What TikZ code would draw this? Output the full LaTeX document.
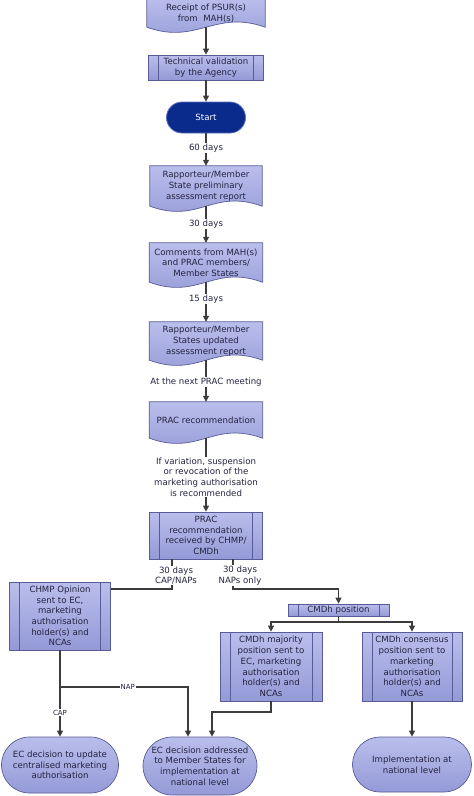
\documentclass[tikz,border=0pt]{standalone}
\usepackage{fontspec}
\setmainfont{DejaVu Sans}
\usetikzlibrary{arrows.meta,backgrounds,calc,shapes.misc}
\definecolor{boxtop}{RGB}{186,190,236}
\definecolor{boxbot}{RGB}{148,154,214}
\definecolor{boxline}{RGB}{88,92,150}
\definecolor{connc}{RGB}{60,60,60}
\definecolor{txt}{RGB}{35,35,65}
\definecolor{startfill}{RGB}{10,42,140}
\definecolor{startline}{RGB}{90,110,190}
\tikzset{
  base/.style={font=\fontsize{8.6}{10.7}\selectfont, text=txt, align=center, inner sep=0pt},
  docbox/.style={base},
  boxshade/.style={top color=boxtop, bottom color=boxbot, draw=boxline, line width=0.7pt},
  procbox/.style={base, boxshade,
    path picture={\draw[boxline,line width=0.7pt]
      ([xshift=10pt]path picture bounding box.north west) -- ([xshift=10pt]path picture bounding box.south west)
      ([xshift=-10pt]path picture bounding box.north east) -- ([xshift=-10pt]path picture bounding box.south east);}},
  termbox/.style={base, rounded rectangle, boxshade},
  startbox/.style={base, rounded rectangle, draw=startline, fill=startfill, line width=0.8pt, text=white},
  conn/.style={draw=connc, line width=1.1pt},
  arr/.style={conn, -{Triangle[length=6pt,width=6pt]}},
  lbl/.style={base, fill=white, inner sep=0.6pt},
  smalllbl/.style={lbl, font=\fontsize{7}{8}\selectfont},
}
\newcommand\wavebg[1]{%
  \begin{scope}[on background layer]
  \path[boxshade]
    (#1.north west) -- (#1.north east) -- (#1.south east)
    .. controls ($(#1.south east)+(-50,18)$) and ($(#1.south west)+(50,-18)$) .. (#1.south west) -- cycle;
  \end{scope}}
\begin{document}
\begin{tikzpicture}[x=1pt,y=1pt]
\useasboundingbox (0,0) rectangle (474,-796);

% nodes
\node[docbox, minimum width=118pt, minimum height=28pt] (receipt) at (206,-13) {Receipt of PSUR(s)\\from\ \ MAH(s)};
\node[procbox, minimum width=115pt, minimum height=25pt] (techval) at (206,-67.5) {Technical validation\\by the Agency};
\node[startbox, minimum width=79pt, minimum height=31pt] (start) at (206,-117.5) {Start};
\node[docbox, minimum width=112pt, minimum height=40pt] (prelim) at (206,-186) {Rapporteur/Member\\State preliminary\\assessment report};
\node[docbox, minimum width=113pt, minimum height=39pt] (comments) at (206,-262.5) {Comments from MAH(s)\\and PRAC members/\\Member States};
\node[docbox, minimum width=113pt, minimum height=38pt] (updated) at (206,-341) {Rapporteur/Member\\States updated\\assessment report};
\node[docbox, minimum width=113pt, minimum height=36pt] (pracrec) at (206,-420) {PRAC recommendation};
\node[procbox, minimum width=113pt, minimum height=47pt] (received) at (206,-535.5) {PRAC\\recommendation\\received by CHMP/\\CMDh};
\node[procbox, minimum width=101pt, minimum height=68pt] (chmp) at (60,-616) {CHMP Opinion\\sent to EC,\\marketing\\authorisation\\holder(s) and\\NCAs};
\node[procbox, minimum width=101pt, minimum height=12pt] (pos) at (338.5,-610) {CMDh position};
\node[procbox, minimum width=102pt, minimum height=69pt] (majority) at (271,-666.5) {CMDh majority\\position sent to\\EC, marketing\\authorisation\\holder(s) and\\NCAs};
\node[procbox, minimum width=100pt, minimum height=69pt] (consensus) at (412,-666.5) {CMDh consensus\\position sent to\\marketing\\authorisation\\holder(s) and\\NCAs};
\node[termbox, minimum width=117pt, minimum height=56pt] (ecupdate) at (60,-765) {EC decision to update\\centralised marketing\\authorisation};
\node[termbox, minimum width=114pt, minimum height=58pt] (ecaddr) at (200,-766) {EC decision addressed\\to Member States for\\implementation at\\national level};
\node[termbox, minimum width=119pt, minimum height=55pt] (impl) at (412,-764.5) {Implementation at\\national level};

\wavebg{receipt}
\wavebg{prelim}
\wavebg{comments}
\wavebg{updated}
\wavebg{pracrec}

% main column
\draw[arr] (receipt.south) -- (techval.north);
\draw[arr] (techval.south) -- (start.north);
\draw[arr] (start.south) -- node[lbl, pos=0.45] {60 days} (prelim.north);
\draw[arr] (prelim.south) -- node[lbl, pos=0.49] {30 days} (comments.north);
\draw[arr] (comments.south) -- node[lbl, pos=0.43] {15 days} (updated.north);
\draw[arr] (updated.south) -- node[lbl, pos=0.52] {At the next PRAC meeting} (pracrec.north);
\draw[arr] (pracrec.south) -- node[lbl, pos=0.53] {If variation, suspension\\or revocation of the\\marketing authorisation\\is recommended} (received.north);

% branches
\coordinate (capj) at (172,-589);
\coordinate (napj) at (233,-589);
\draw[conn] (received.south -| capj) -- (capj) -- (capj -| chmp.east);
\node[lbl] (caplbl) at (176,-575.5) {30 days\\CAP/NAPs};
\draw[arr] (received.south -| napj) -- (napj) -- (napj -| pos.north) -- (pos.north);
\node[lbl] (naplbl) at (240,-575.5) {30 days\\NAPs only};

\coordinate (posj) at (338.5,-622);
\draw[conn] (pos.south) -- (posj);
\draw[arr] (posj) -| (majority.north);
\draw[arr] (posj) -| (consensus.north);

\coordinate (napx) at (188,-687);
\draw[arr] (chmp.south) -- node[smalllbl, pos=0.72] {CAP} (ecupdate.north);
\draw[arr] (chmp.south |- napx) -- node[smalllbl, pos=0.53] {NAP} (napx) -- (napx |- ecaddr.north);

\coordinate (majj) at (212,-712);
\draw[arr] (majority.south) -- (majority.south |- majj) -- (majj) -- (majj |- ecaddr.north);
\draw[arr] (consensus.south) -- (impl.north);
\end{tikzpicture}
\end{document}
